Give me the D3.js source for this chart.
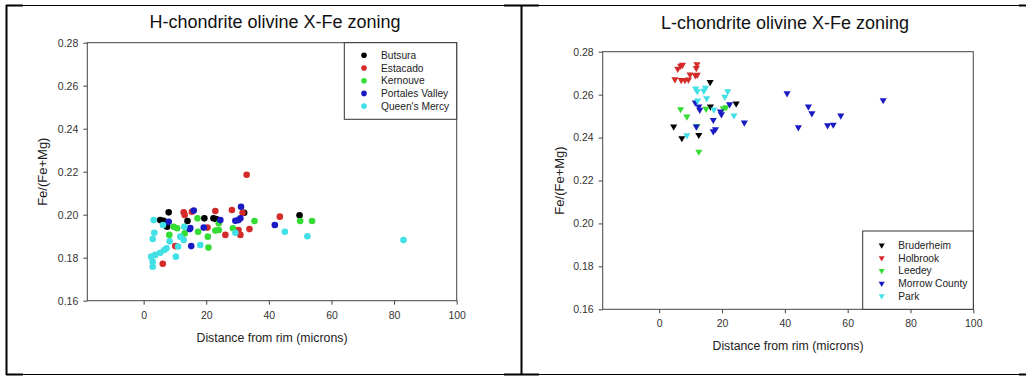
<!DOCTYPE html>
<html>
<head>
<meta charset="utf-8">
<script src="https://cdn.jsdelivr.net/npm/d3@7"></script>
<style>
  body { margin: 0; background: #fff; }
  svg { display: block; font-family: "Liberation Sans", Arial, sans-serif; }
  .tick text { fill: #333; font-size: 10.5px; }
  .tick line, .domain { stroke: #444; }
</style>
</head>
<body>
<svg id="chart" width="1026" height="377"></svg>
<script>
// H-chondrite series: [distance from rim (microns), Fe/(Fe+Mg)]
const butsura = [[5.3,0.1975],[6.4,0.1972],[8.0,0.2011],[7.5,0.1944],[14.0,0.1971],[19.4,0.1983],[22.3,0.1983],[23.2,0.1980],[32.1,0.2009],[49.8,0.1997]];
const estacado = [[32.9,0.2186],[12.8,0.2011],[13.1,0.1999],[15.4,0.2014],[22.9,0.2017],[28.2,0.2022],[31.6,0.2009],[43.5,0.1991],[33.8,0.1933],[30.3,0.1929],[30.9,0.1906],[26.1,0.1906],[20.4,0.1940],[10.1,0.1854],[6.1,0.1772]];
const kernouve = [[8.2,0.1906],[9.6,0.1944],[10.7,0.1937],[13.1,0.1913],[17.4,0.1921],[17.2,0.1983],[20.5,0.1898],[20.7,0.1847],[22.9,0.1926],[24.0,0.1929],[24.0,0.1960],[28.5,0.1937],[35.4,0.1971],[50.0,0.1971],[53.8,0.1971]];
const portalesValley = [[31.1,0.2037],[16.0,0.2019],[8.0,0.1967],[14.7,0.1933],[15.2,0.1854],[19.2,0.1940],[24.5,0.1975],[29.3,0.1972],[30.3,0.1975],[30.9,0.1983],[41.9,0.1952],[14.9,0.1938]];
const queensMercy = [[3.2,0.1975],[3.4,0.1916],[2.9,0.1887],[2.4,0.1805],[3.7,0.1813],[5.3,0.1823],[6.6,0.1836],[7.3,0.1844],[2.9,0.1781],[2.9,0.1758],[6.2,0.1952],[8.3,0.1876],[11.7,0.1898],[12.8,0.1882],[10.3,0.1805],[11.0,0.1852],[13.0,0.1944],[18.1,0.1859],[29.3,0.1916],[45.1,0.1921],[52.3,0.1900],[83.0,0.1882]];

// L-chondrite series
const bruderheim = [[4.6,0.2451],[7.2,0.2397],[12.6,0.2412],[16.2,0.2658],[16.3,0.2544],[24.5,0.2558]];
const holbrook = [[5.0,0.2671],[5.9,0.2720],[6.8,0.2734],[7.4,0.2739],[7.0,0.2668],[8.2,0.2668],[9.3,0.2670],[9.8,0.2694],[11.5,0.2690],[12.0,0.2741],[11.8,0.2724],[12.1,0.2692]];
const leedey = [[6.8,0.2532],[8.8,0.2498],[12.0,0.2454],[12.6,0.2334],[14.9,0.2534],[20.4,0.2536],[21.3,0.2541]];
const morrowCounty = [[11.5,0.2563],[12.6,0.2544],[12.9,0.2529],[11.8,0.2451],[17.2,0.2482],[17.2,0.2429],[17.9,0.2439],[19.5,0.2521],[19.8,0.2508],[22.4,0.2555],[27.1,0.2470],[40.7,0.2606],[44.3,0.2448],[47.5,0.2544],[48.6,0.2513],[53.6,0.2457],[55.4,0.2460],[57.8,0.2502],[71.3,0.2574]];
const park = [[11.6,0.2628],[12.1,0.2616],[14.2,0.2618],[14.7,0.2632],[15.1,0.2583],[12.2,0.2572],[17.4,0.2530],[20.9,0.2590],[21.8,0.2615],[23.8,0.2503],[8.8,0.2410]];

const xTicks = [0, 20, 40, 60, 80, 100];
const yTicks = [0.16, 0.18, 0.20, 0.22, 0.24, 0.26, 0.28];
const seriesColors = ['#000000', '#d42a2a', '#34dc34', '#1a1ac4', '#40e0e6'];

const svg = d3.select('#chart');

// table-like frame around the two images
const frame = svg.append('g').attr('stroke', '#000').attr('fill', 'none');
frame.append('line').attr('x1', 6).attr('x2', 1026).attr('y1', 5.5).attr('y2', 5.5).attr('stroke-width', 1);
frame.append('line').attr('x1', 6).attr('x2', 1026).attr('y1', 374.5).attr('y2', 374.5).attr('stroke-width', 1);
[[6, 23], [504, 539], [1019, 1026]].forEach(([a, b]) => {
  frame.append('line').attr('x1', a).attr('x2', b).attr('y1', 5.5).attr('y2', 5.5).attr('stroke-width', 2);
  frame.append('line').attr('x1', a).attr('x2', b).attr('y1', 374.5).attr('y2', 374.5).attr('stroke-width', 2);
});
frame.append('line').attr('x1', 6.5).attr('x2', 6.5).attr('y1', 5).attr('y2', 375).attr('stroke-width', 2);
frame.append('line').attr('x1', 521.5).attr('x2', 521.5).attr('y1', 5).attr('y2', 375).attr('stroke-width', 2);

function drawPanel(cfg) {
  const { left, right, top, bottom } = cfg;
  const x = d3.scaleLinear().domain([-18, 100]).range([left, right]);
  const y = d3.scaleLinear().domain([0.16, 0.28]).range([bottom, top]);
  const g = svg.append('g');

  g.append('text')
    .attr('x', cfg.titleX).attr('y', cfg.titleY)
    .attr('text-anchor', 'middle')
    .attr('font-size', '18px').attr('fill', '#111')
    .text(cfg.title);

  // box around the plot area
  g.append('rect')
    .attr('x', left).attr('y', top)
    .attr('width', right - left).attr('height', bottom - top)
    .attr('fill', 'none').attr('stroke', '#444');

  g.append('g')
    .attr('transform', `translate(0,${bottom})`)
    .call(d3.axisBottom(x).tickValues(xTicks).tickSize(4).tickPadding(6.5).tickSizeOuter(0).tickFormat(d3.format('d')))
    .call(a => a.select('.domain').remove());

  g.append('g')
    .attr('transform', `translate(${left},0)`)
    .call(d3.axisLeft(y).tickValues(yTicks).tickSize(4).tickPadding(5).tickSizeOuter(0).tickFormat(d3.format('.2f')))
    .call(a => a.select('.domain').remove());

  g.append('text')
    .attr('x', (left + right) / 2).attr('y', bottom + 40.8)
    .attr('text-anchor', 'middle').attr('font-size', '12.3px').attr('fill', '#222')
    .text('Distance from rim (microns)');

  g.append('text')
    .attr('transform', `translate(${left - cfg.yLabelOffset},${(top + bottom) / 2}) rotate(-90)`)
    .attr('text-anchor', 'middle').attr('font-size', '13px').attr('fill', '#222')
    .text('Fe/(Fe+Mg)');

  const marker = (sel, scale) => {
    if (cfg.shape === 'circle') {
      sel.append('circle').attr('r', 3.3 * scale);
    } else {
      sel.append('path')
        .attr('d', d3.symbol(d3.symbolTriangle, 22 * scale * scale))
        .attr('transform', 'rotate(180)');
    }
  };

  cfg.series.forEach((s, i) => {
    const pts = g.append('g').attr('fill', seriesColors[i])
      .selectAll('g').data(s.values).join('g')
      .attr('transform', d => `translate(${x(d[0])},${y(d[1])})`);
    marker(pts, 1);
  });

  // legend
  const lw = cfg.legend.width, lh = cfg.legend.height;
  const lx = right - lw;
  const ly = cfg.legend.atTop ? top : bottom - lh;
  const leg = g.append('g').attr('transform', `translate(${lx},${ly})`);
  leg.append('rect').attr('width', lw).attr('height', lh)
    .attr('fill', '#fff').attr('stroke', '#333');
  cfg.series.forEach((s, i) => {
    const row = leg.append('g')
      .attr('transform', `translate(${cfg.legend.markerX},${cfg.legend.firstRow + i * 12.7})`);
    const m = row.append('g').attr('fill', seriesColors[i]);
    marker(m, 0.85);
    row.append('text')
      .attr('x', cfg.legend.textX - cfg.legend.markerX).attr('dy', '0.35em')
      .attr('font-size', '10.2px').attr('fill', '#222')
      .text(s.name);
  });
}

drawPanel({
  title: 'H-chondrite olivine X-Fe zoning',
  titleX: 275, titleY: 27.5,
  left: 87.3, right: 456.7, top: 42.7, bottom: 300.7,
  yLabelOffset: 40,
  shape: 'circle',
  series: [
    { name: 'Butsura', values: butsura },
    { name: 'Estacado', values: estacado },
    { name: 'Kernouve', values: kernouve },
    { name: 'Portales Valley', values: portalesValley },
    { name: "Queen's Mercy", values: queensMercy }
  ],
  legend: { width: 112.4, height: 76.6, atTop: true, markerX: 19.7, textX: 36.7, firstRow: 12.6 }
});

drawPanel({
  title: 'L-chondrite olivine X-Fe zoning',
  titleX: 785, titleY: 29,
  left: 602.7, right: 973.3, top: 51.7, bottom: 309.3,
  yLabelOffset: 38.4,
  shape: 'triangle',
  series: [
    { name: 'Bruderheim', values: bruderheim },
    { name: 'Holbrook', values: holbrook },
    { name: 'Leedey', values: leedey },
    { name: 'Morrow County', values: morrowCounty },
    { name: 'Park', values: park }
  ],
  legend: { width: 110.6, height: 78.3, atTop: false, markerX: 19, textX: 35.6, firstRow: 14.3 }
});
</script>
</body>
</html>
